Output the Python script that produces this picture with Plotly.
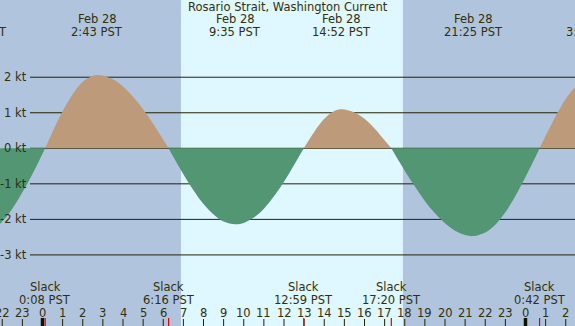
import plotly.graph_objects as go

W, H = 575, 326
# visible time window, hours after Feb 28 00:00 PST
X0, X1 = -2.112, 26.46
Y0, Y1 = -5.0, 4.173

title_text = "Rosario Strait, Washington Current"

# current samples (hours after Feb 28 00:00, knots)
times_h = [-3.217, -3.0, -2.5, -2.0, -1.5, -1.0, -0.5, 0.0, 0.133,
           0.5, 1.0, 1.5, 2.0, 2.5, 2.717, 3.0, 3.5, 4.0, 4.5, 5.0, 5.5, 6.0, 6.267,
           6.5, 7.0, 7.5, 8.0, 8.5, 9.0, 9.583, 10.0, 10.5, 11.0, 11.5, 12.0, 12.5, 12.983,
           13.5, 14.0, 14.5, 14.867, 15.5, 16.0, 16.5, 17.0, 17.333,
           17.5, 18.0, 18.5, 19.0, 19.5, 20.0, 20.5, 21.0, 21.417, 22.0, 22.5, 23.0, 23.5, 24.0, 24.5, 24.7,
           25.0, 25.5, 26.0, 26.5, 27.0, 27.283]
current_kt = [-2.45, -2.44, -2.31, -2.06, -1.70, -1.24, -0.72, -0.15, 0.0,
              0.46, 1.04, 1.52, 1.87, 2.04, 2.06, 2.04, 1.94, 1.74, 1.45, 1.10, 0.69, 0.24, 0.0,
              -0.24, -0.73, -1.18, -1.57, -1.86, -2.06, -2.14, -2.10, -1.95, -1.70, -1.35, -0.94, -0.47, 0.0,
              0.46, 0.83, 1.05, 1.10, 1.01, 0.83, 0.56, 0.23, 0.0,
              -0.16, -0.63, -1.07, -1.48, -1.83, -2.11, -2.32, -2.44, -2.47, -2.37, -2.15, -1.80, -1.34, -0.81, -0.24, 0.0,
              0.35, 0.91, 1.39, 1.73, 1.92, 1.95]

# max current events
max_times = [-3.217, 2.717, 9.583, 14.867, 21.417, 27.283]
max_dates = ["Feb 27", "Feb 28", "Feb 28", "Feb 28", "Feb 28", "Mar 1"]
max_labels = ["20:47 PST", "2:43 PST", "9:35 PST", "14:52 PST", "21:25 PST", "3:17 PST"]

# slack events
slack_times = [0.133, 6.267, 12.983, 17.333, 24.7]
slack_labels = ["0:08 PST", "6:16 PST", "12:59 PST", "17:20 PST", "0:42 PST"]

# daylight
sunrise_h = 6.88
sunset_h = 17.91

kt_levels = [2, 1, 0, -1, -2, -3]
hour_ticks = list(range(-2, 27))

NIGHT = "#b0c4de"
DAY = "#dff7ff"
FLOOD = "#bd9b7a"
EBB = "#529673"
INK = "#30300c"
LINE = "#222200"
FONT = "DejaVu Sans"
FS = 11.5


def py(p):
    return 1 - p / H


def paper_x(t):
    return (t - X0) / (X1 - X0)


fig = go.Figure()

# split into half-cycles at slack (zero) points
segs = []
cur = []
for t, v in zip(times_h, current_kt):
    cur.append((t, v))
    if v == 0 and len(cur) > 1:
        segs.append(cur)
        cur = [(t, v)]
if len(cur) > 1:
    segs.append(cur)

for seg in segs:
    xs = [p[0] for p in seg]
    ys = [p[1] for p in seg]
    pos = max(ys, key=abs) > 0
    fig.add_trace(go.Scatter(
        x=xs, y=ys, mode="lines",
        line=dict(width=0, shape="spline", smoothing=1, color=FLOOD if pos else EBB),
        fill="tozeroy", fillcolor=FLOOD if pos else EBB,
        hoverinfo="skip", showlegend=False))

shapes = []
# night shading
shapes.append(dict(type="rect", xref="x", yref="paper", x0=X0 - 5, x1=sunrise_h, y0=0, y1=1,
                   fillcolor=NIGHT, line=dict(width=0), layer="below"))
shapes.append(dict(type="rect", xref="x", yref="paper", x0=sunset_h, x1=X1 + 5, y0=0, y1=1,
                   fillcolor=NIGHT, line=dict(width=0), layer="below"))
# knot lines
for k in kt_levels:
    shapes.append(dict(type="line", xref="paper", yref="y", x0=30 / W, x1=1, y0=k, y1=k,
                       line=dict(color=LINE, width=1), layer="below"))
# hour ticks
for h in hour_ticks:
    if h % 24 == 0:
        shapes.append(dict(type="line", xref="x", yref="paper", x0=h, x1=h, y0=0, y1=8 / H,
                           line=dict(color="#111100", width=3.5)))
    else:
        shapes.append(dict(type="line", xref="x", yref="paper", x0=h, x1=h, y0=0, y1=7 / H,
                           line=dict(color=LINE, width=1)))
# slack ticks
for t in slack_times:
    shapes.append(dict(type="line", xref="x", yref="paper", x0=t, x1=t, y0=0, y1=8 / H,
                       line=dict(color="#e00000", width=1.2)))

ann = []
fnt = dict(family=FONT, size=FS, color=INK)
ann.append(dict(text=title_text, xref="paper", yref="paper", x=0.5, y=py(7.5),
                xanchor="center", yanchor="middle", showarrow=False, font=fnt))
for t, d, l in zip(max_times, max_dates, max_labels):
    ann.append(dict(text=d, xref="paper", yref="paper", x=paper_x(t), y=py(19.5),
                    xanchor="center", yanchor="middle", showarrow=False, font=fnt))
    ann.append(dict(text=l, xref="paper", yref="paper", x=paper_x(t), y=py(32),
                    xanchor="center", yanchor="middle", showarrow=False, font=fnt))
for t, l in zip(slack_times, slack_labels):
    ann.append(dict(text="Slack", xref="paper", yref="paper", x=paper_x(t), y=py(287),
                    xanchor="center", yanchor="middle", showarrow=False, font=fnt))
    ann.append(dict(text=l, xref="paper", yref="paper", x=paper_x(t), y=py(300),
                    xanchor="center", yanchor="middle", showarrow=False, font=fnt))
for h in hour_ticks:
    ann.append(dict(text=str(h % 24), xref="x", yref="paper", x=h, y=py(312.5),
                    xanchor="center", yanchor="middle", showarrow=False, font=fnt))
for k in kt_levels:
    ann.append(dict(text=f"{k} kt", xref="paper", yref="y", x=28.5 / W, y=k,
                    xanchor="right", yanchor="middle", showarrow=False, font=fnt))

fig.update_layout(
    width=W, height=H, margin=dict(l=0, r=0, t=0, b=0),
    paper_bgcolor=DAY, plot_bgcolor=DAY,
    xaxis=dict(range=[X0, X1], visible=False, fixedrange=True),
    yaxis=dict(range=[Y0, Y1], visible=False, fixedrange=True),
    shapes=shapes, annotations=ann, showlegend=False,
)

fig.write_html("out.html", config={"displayModeBar": False},
               post_script="document.body.style.margin='0px';document.body.style.overflow='hidden';")
